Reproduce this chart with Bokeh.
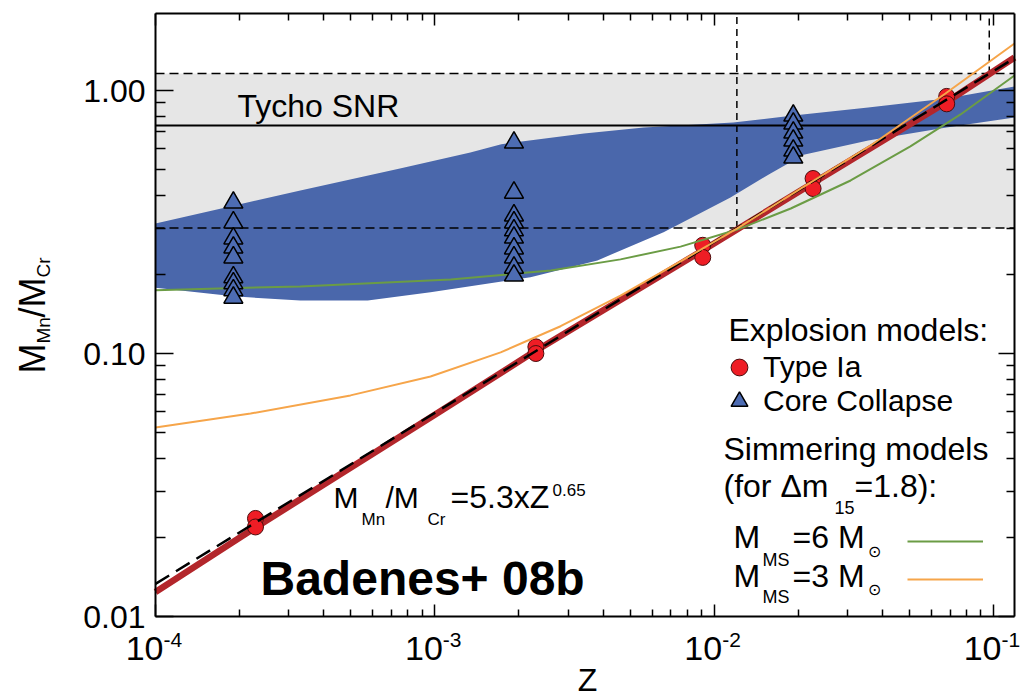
import math

from bokeh.embed import file_html
from bokeh.models import FixedTicker, Label, Legend, LegendItem, LogAxis, Range1d
from bokeh.plotting import figure
from bokeh.resources import INLINE

# ---------------- data ----------------
z_range = (1e-4, 0.1189)
ratio_range = (0.01, 1.963)

x_tick_values = [1e-4, 1e-3, 1e-2, 1e-1]
x_tick_exponents = ["-4", "-3", "-2", "-1"]
y_tick_values = [0.01, 0.1, 1.0]
y_tick_labels = ["0.01", "0.10", "1.00"]

# Tycho SNR measurement and its allowed range
tycho_ratio = 0.736
tycho_low = 0.30
tycho_high = 1.16

# power-law fit quoted on the chart: M_Mn/M_Cr = 5.3 x Z^0.65
fit_coeff = 5.3
fit_exp = 0.65

# Type Ia explosion models
ia_z = [2.28e-4, 2.28e-4, 2.3e-3, 2.3e-3, 9.1e-3, 9.1e-3, 2.26e-2, 2.26e-2, 6.8e-2, 6.8e-2]
ia_ratio = [0.0236, 0.0219, 0.106, 0.100, 0.258, 0.232, 0.463, 0.424, 0.950, 0.890]

# core-collapse explosion models
cc_z = [1.9e-4, 1.9e-4, 1.9e-4, 1.9e-4, 1.9e-4, 1.9e-4, 1.9e-4, 1.9e-4, 1.9e-4,
        1.92e-3, 1.92e-3, 1.92e-3, 1.92e-3, 1.92e-3, 1.92e-3, 1.92e-3, 1.92e-3, 1.92e-3, 1.92e-3,
        1.92e-2, 1.92e-2, 1.92e-2, 1.92e-2, 1.92e-2, 1.92e-2]
cc_ratio = [0.375, 0.315, 0.274, 0.253, 0.232, 0.195, 0.185, 0.174, 0.163,
            0.634, 0.409, 0.335, 0.315, 0.294, 0.276, 0.251, 0.232, 0.212, 0.198,
            0.803, 0.749, 0.692, 0.645, 0.591, 0.556]

# envelope of the core-collapse models
cc_band_upper_z = [1e-4, 1.9e-4, 3.3e-4, 7.5e-4, 1.34e-3, 1.73e-3, 3.42e-3, 5.6e-3,
                   1.17e-2, 1.92e-2, 3.56e-2, 6.78e-2, 0.1189]
cc_band_upper = [0.312, 0.365, 0.417, 0.505, 0.581, 0.625, 0.686, 0.723,
                 0.756, 0.803, 0.862, 0.932, 1.036]
cc_band_lower_z = [1e-4, 1.9e-4, 3.3e-4, 5.75e-4, 9.65e-4, 2.2e-3, 3.82e-3, 6.59e-3,
                   1.144e-2, 1.591e-2, 2.09e-2, 3.56e-2, 6.78e-2, 0.1189]
cc_band_lower = [0.178, 0.165, 0.159, 0.159, 0.171, 0.195, 0.226, 0.289,
                 0.392, 0.484, 0.570, 0.645, 0.723, 0.789]

# Type Ia model trend
ia_trend_z = [1e-4, 2.28e-4, 1e-3, 2.2e-3, 9e-3, 2.26e-2, 6.8e-2, 0.1189]
ia_trend_ratio = [0.0124, 0.0218, 0.0585, 0.0995, 0.245, 0.445, 0.905, 1.335]

# simmering models, M_MS = 6 Msun
sim6_z = [1e-4, 3.3e-4, 1.14e-3, 2.6e-3, 4.62e-3, 7.58e-3, 1.21e-2,
          1.88e-2, 3.08e-2, 5.04e-2, 7.62e-2, 0.1189]
sim6_ratio = [0.174, 0.180, 0.191, 0.207, 0.228, 0.255, 0.296,
              0.356, 0.455, 0.613, 0.811, 1.141]

# simmering models, M_MS = 3 Msun
sim3_z = [1e-4, 2.19e-4, 4.99e-4, 9.65e-4, 1.72e-3, 2.82e-3, 4.62e-3, 7.58e-3,
          1.21e-2, 2.04e-2, 3.63e-2, 6.73e-2, 0.1189]
sim3_ratio = [0.0523, 0.0591, 0.0693, 0.0818, 0.101, 0.127, 0.166, 0.224,
              0.299, 0.424, 0.618, 0.974, 1.51]

# ---------------- styling ----------------
FONT = "Liberation Sans"
GRAY = "#e6e6e6"
BLUE = "#4a67ab"
TRI_BLUE = "#4d6cb3"
IA_RED = "#ee1d25"
TREND_RED = "#b3262b"
GREEN = "#6b9c45"
ORANGE = "#f6a54a"

W, H = 1028, 699
# space around the axes box, in pixels
PAD_L, PAD_R, PAD_T, PAD_B = 155, 14, 13, 83


def padded_range(lo, hi, pad_lo, pad_hi, span_px):
    """Extend a log range so that the axes box sits inside the canvas padding."""
    a, b = math.log10(lo), math.log10(hi)
    per_px = (b - a) / span_px
    return Range1d(10 ** (a - pad_lo * per_px), 10 ** (b + pad_hi * per_px))


p = figure(width=W, height=H, x_axis_type="log", y_axis_type="log",
           x_range=padded_range(*z_range, PAD_L, PAD_R, W - PAD_L - PAD_R),
           y_range=padded_range(*ratio_range, PAD_B, PAD_T, H - PAD_T - PAD_B),
           output_backend="svg", toolbar_location=None,
           min_border_left=0, min_border_right=0, min_border_top=0, min_border_bottom=0)
p.background_fill_color = "white"
p.border_fill_color = "white"
p.grid.visible = False
p.outline_line_color = None

x_minor = [k * 10.0 ** e for e in range(-4, 0) for k in range(2, 10)]
y_minor = [k * 10.0 ** e for e in (-2, -1) for k in range(2, 10)]
x_ticker = FixedTicker(ticks=x_tick_values, minor_ticks=x_minor)
y_ticker = FixedTicker(ticks=y_tick_values, minor_ticks=y_minor)

bottom_axis = p.below[0]
left_axis = p.left[0]
top_axis = LogAxis()
right_axis = LogAxis()
p.add_layout(top_axis, "above")
p.add_layout(right_axis, "right")


def style_axis(ax, ticker, bounds, location, major_in, minor_in):
    ax.ticker = ticker
    ax.bounds = bounds
    ax.fixed_location = location
    ax.axis_line_color = "black"
    ax.axis_line_width = 2
    ax.major_tick_in = major_in
    ax.major_tick_out = 0
    ax.minor_tick_in = minor_in
    ax.minor_tick_out = 0
    ax.major_tick_line_width = 1.5
    ax.minor_tick_line_width = 1.5
    ax.major_tick_line_color = "black"
    ax.minor_tick_line_color = "black"


style_axis(bottom_axis, x_ticker, z_range, ratio_range[0], 12, 7)
style_axis(top_axis, x_ticker, z_range, ratio_range[1], 12, 7)
style_axis(left_axis, y_ticker, ratio_range, z_range[0], 18, 10)
style_axis(right_axis, y_ticker, ratio_range, z_range[1], 16, 8)

for ax in (bottom_axis, top_axis):
    ax.major_label_overrides = {v: "" for v in x_tick_values}
    ax.major_label_text_font_size = "0px"
right_axis.major_label_overrides = {v: "" for v in y_tick_values}
right_axis.major_label_text_font_size = "0px"

left_axis.major_label_overrides = dict(zip(y_tick_values, y_tick_labels))
left_axis.major_label_text_font = FONT
left_axis.major_label_text_font_size = "32px"
left_axis.major_label_text_color = "black"
left_axis.major_label_standoff = 10

# ---------------- marks ----------------
p.quad(left=[z_range[0]], right=[z_range[1]], bottom=[tycho_low], top=[tycho_high],
       fill_color=GRAY, line_color=None)

p.patch(x=cc_band_upper_z + cc_band_lower_z[::-1],
        y=cc_band_upper + cc_band_lower[::-1],
        fill_color=BLUE, line_color=None)

limit_ratio = [tycho_low, tycho_high]
p.segment(x0=[z_range[0]] * 2, x1=[z_range[1]] * 2, y0=limit_ratio, y1=limit_ratio,
          line_color="black", line_width=1.5, line_dash="9 5")
p.segment(x0=[z_range[0]], x1=[z_range[1]], y0=[tycho_ratio], y1=[tycho_ratio],
          line_color="black", line_width=2)

# metallicity where the fit crosses the Tycho limits
limit_z = [(r / fit_coeff) ** (1.0 / fit_exp) for r in limit_ratio]
p.segment(x0=limit_z, y0=limit_ratio, x1=limit_z, y1=[ratio_range[1]] * 2,
          line_color="black", line_width=1.5, line_dash="7 5")

p.line(ia_trend_z, ia_trend_ratio, line_color=TREND_RED, line_width=6.5)

ia_r = p.scatter(ia_z, ia_ratio, marker="circle", size=16,
                 fill_color=IA_RED, line_color="#4a0d0d", line_width=1)

fit_z = list(z_range)
fit_ratio = [fit_coeff * z ** fit_exp for z in fit_z]
p.line(fit_z, fit_ratio, line_color="black", line_width=2.5, line_dash="16 8")

sim6_r = p.line(sim6_z, sim6_ratio, line_color=GREEN, line_width=2)
sim3_r = p.line(sim3_z, sim3_ratio, line_color=ORANGE, line_width=2)

cc_r = p.scatter(cc_z, cc_ratio, marker="triangle", size=19,
                 fill_color=TRI_BLUE, line_color="black", line_width=1.5)


# ---------------- legends ----------------
def legend(items, location, glyph_w, glyph_h, size="30px"):
    leg = Legend(items=items, location=location, orientation="vertical",
                 glyph_width=glyph_w, glyph_height=glyph_h, spacing=0, label_standoff=3,
                 padding=0, margin=0, border_line_color=None, background_fill_alpha=0,
                 label_text_font=FONT, label_text_font_size=size, label_text_color="black")
    p.add_layout(leg)


legend([LegendItem(label="Type Ia", renderers=[ia_r])], (718, 311), 42, 42)
legend([LegendItem(label="Core Collapse", renderers=[cc_r])], (718, 277), 42, 42)
legend([LegendItem(label="", renderers=[sim6_r]),
        LegendItem(label="", renderers=[sim3_r])], (907, 101), 76, 38, "10px")


# ---------------- texts ----------------
# offsets are measured from the lower-left corner of the axes box to the
# vertical middle of each piece of text
def add_text(text, dx, dy, size, x=None, y=None, angle=0.0, bold=False, align="left"):
    p.add_layout(Label(
        x=z_range[0] if x is None else x, y=ratio_range[0] if y is None else y,
        x_offset=dx, y_offset=dy, text=text, angle=angle,
        text_font=FONT, text_font_size=f"{size}px",
        text_font_style="bold" if bold else "normal",
        text_align=align, text_baseline="middle", text_color="black"))


# x tick labels: 10 with a raised exponent
for v, e in zip(x_tick_values, x_tick_exponents):
    add_text("10", 8, -32, 34, x=v, align="right")
    add_text(e, 8, -23, 21, x=v)

add_text("Z", 432, -63, 32, align="center")

# rotated y axis title
rot = math.pi / 2
add_text("M", -123, 243, 36, angle=rot)
add_text("Mn", -112, 273, 19, angle=rot)
add_text("/M", -123, 299, 36, angle=rot)
add_text("Cr", -112, 339, 19, angle=rot)

add_text("Tycho SNR", 82, 20, 32, y=tycho_ratio)

# fit formula
add_text("M", 178, 119, 30)
add_text("Mn", 206, 97, 17)
add_text("/M", 230, 119, 30)
add_text("Cr", 272, 97, 17)
add_text("=5.3xZ", 295, 120, 32)
add_text("0.65", 397, 127, 17)

add_text("Badenes+ 08b", 105, 38, 48, bold=True)

# legend headings and labels
add_text("Explosion models:", 573, 287, 32)
add_text("Simmering models", 568, 168, 32)
add_text("(for \u0394m", 568, 131, 32)
add_text("15", 679, 109, 18)
add_text("=1.8):", 699, 131, 32)

add_text("M", 578, 80, 32)
add_text("MS", 607, 57, 18)
add_text("=6 M", 637, 80, 32)
add_text("\u2299", 712, 65, 16)

add_text("M", 578, 41, 32)
add_text("MS", 607, 20, 18)
add_text("=3 M", 637, 41, 32)
add_text("\u2299", 712, 27, 16)

open("out.html", "w").write(file_html(p, INLINE))
